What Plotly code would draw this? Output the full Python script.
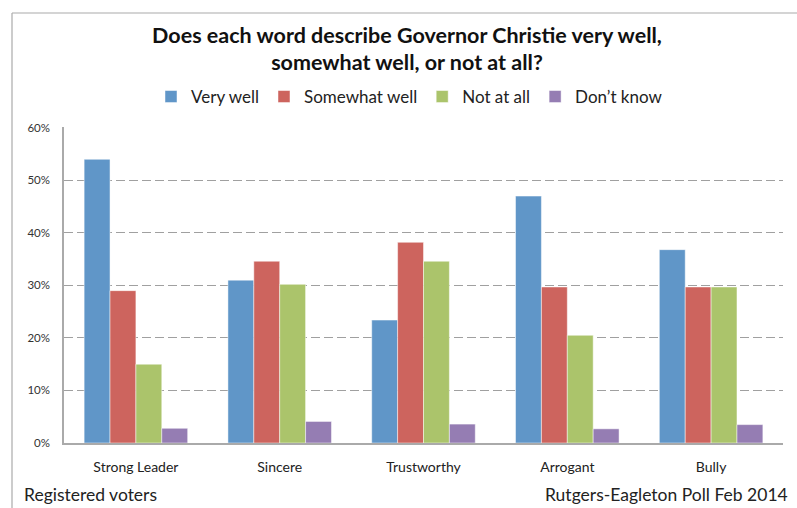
import plotly.graph_objects as go

categories = ["Strong Leader", "Sincere", "Trustworthy", "Arrogant", "Bully"]
series_names = ["Very well", "Somewhat well", "Not at all", "Don\u2019t know"]
very_well = [54, 31, 23.4, 47, 36.8]
somewhat_well = [29, 34.6, 38.2, 29.7, 29.7]
not_at_all = [15, 30.2, 34.6, 20.5, 29.7]
dont_know = [2.8, 4.1, 3.6, 2.7, 3.5]
colors = ["#6096C8", "#CD645E", "#ABC46B", "#957DB3"]
y_ticks = [0, 10, 20, 30, 40, 50, 60]
y_tick_labels = ["0%", "10%", "20%", "30%", "40%", "50%", "60%"]

font_family = "Lato, 'Open Sans', sans-serif"

fig = go.Figure()
for name, vals, col in zip(series_names, [very_well, somewhat_well, not_at_all, dont_know], colors):
    fig.add_trace(go.Bar(x=categories, y=vals, name=name,
                         marker=dict(color=col, line=dict(color="rgba(255,255,255,0.6)", width=0.8))))

W, H = 797, 508
fig.update_layout(
    width=W, height=H,
    paper_bgcolor="white", plot_bgcolor="white",
    margin=dict(l=64, r=14, t=127, b=65),
    barmode="group", bargap=0.28, bargroupgap=0,
    font=dict(family=font_family, color="#222222"),
    title=dict(text="<b>Does each word describe Governor Christie very well,<br>somewhat well, or not at all?</b>",
               x=407 / W, xanchor="center", y=1 - 42.5 / H, yanchor="middle",
               font=dict(size=21.5, color="#111111")),
    legend=dict(orientation="h", x=0.5 - 14 / 719, xanchor="center", y=1.095, yanchor="middle",
                font=dict(size=17, color="#222222"), itemwidth=30, traceorder="normal",
                bgcolor="rgba(0,0,0,0)"),
    showlegend=True,
)
fig.update_xaxes(showline=True, linecolor="#AAAAAA", linewidth=1.5,
                 ticks="outside", ticklen=10, tickcolor="rgba(0,0,0,0)",
                 tickfont=dict(size=14, color="#222222"), showgrid=False)
fig.update_yaxes(range=[0, 60.15], tickvals=y_ticks, ticktext=y_tick_labels,
                 showline=True, linecolor="#AAAAAA", linewidth=1.5,
                 showgrid=True, gridcolor="#A0A0A0", griddash="9px,4px", gridwidth=1,
                 ticks="outside", ticklen=10, tickcolor="rgba(0,0,0,0)",
                 tickfont=dict(size=11.5, color="#333333"), zeroline=False)

fig.add_annotation(text="Registered voters", xref="paper", yref="paper",
                   x=-42 / 719, y=-51 / 316, xanchor="left", yanchor="middle",
                   showarrow=False, font=dict(size=17.5, color="#222222"))
fig.add_annotation(text="Rutgers-Eagleton Poll Feb 2014", xref="paper", yref="paper",
                   x=1 + 7 / 719, y=-51 / 316, xanchor="right", yanchor="middle",
                   showarrow=False, font=dict(size=17.5, color="#222222"))
# outer chart frame (top and left edges visible)
fig.add_shape(type="line", xref="paper", yref="paper",
              x0=-52 / 719, y0=1 + 114 / 316, x1=1 + 60 / 719, y1=1 + 114 / 316,
              line=dict(color="#AAAAAA", width=1.2))
fig.add_shape(type="line", xref="paper", yref="paper",
              x0=-52 / 719, y0=-90 / 316, x1=-52 / 719, y1=1 + 114 / 316,
              line=dict(color="#AAAAAA", width=1.2))

fig.write_html("out.html", config={"displayModeBar": False},
               post_script="document.documentElement.style.margin='0';document.body.style.margin='0';document.documentElement.style.overflow='hidden';document.body.style.overflow='hidden';")
